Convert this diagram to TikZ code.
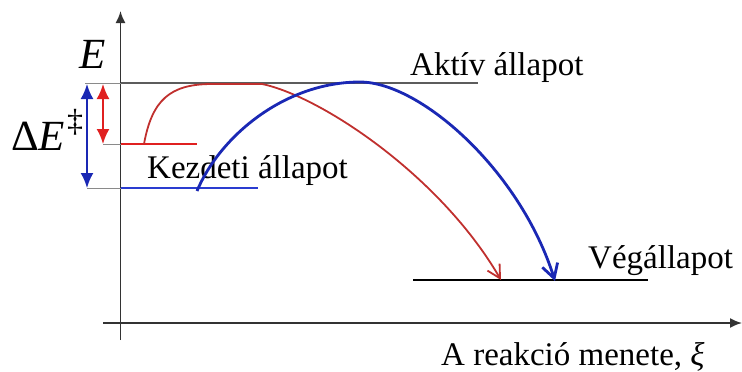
\documentclass[tikz,border=0pt]{standalone}
\usepackage{fontspec}
\setmainfont{Liberation Serif}
\usetikzlibrary{arrows.meta}
\definecolor{axisgray}{HTML}{333333}
\definecolor{thingray}{HTML}{8A8A8A}
\definecolor{curvered}{HTML}{C0302E}
\definecolor{brightred}{HTML}{E02020}
\definecolor{darkblue}{HTML}{1A28B4}
\definecolor{lineblue}{HTML}{2A3CD0}
\tikzset{
  axis/.style={draw=axisgray, line width=1.8pt, -{Latex[length=12pt,width=10pt]}},
  lvl/.style={line width=2.6pt},
  guide/.style={draw=thingray, line width=0.8pt},
  dbl/.style={line width=2pt, {Latex[length=15pt,width=13pt]}-{Latex[length=15pt,width=13pt]}},
  lbl/.style={anchor=base west, inner sep=0pt, font=\fontsize{33}{36}\selectfont},
  big/.style={anchor=base west, inner sep=0pt, font=\fontsize{43}{46}\selectfont},
}
\begin{document}
\begin{tikzpicture}[x=1pt,y=-1pt]
\useasboundingbox (0,0) rectangle (742,372);
% axes
\coordinate (yb) at (120.5,340);
\coordinate (yt) at (120.5,11);
\coordinate (xl) at (103,323);
\coordinate (xr) at (742,323);
\draw[axis] (yb) -- (yt);
\draw[axis] (xl) -- (xr);
% levels
\coordinate (tl0) at (85,83);
\coordinate (tl1) at (120.5,83);
\coordinate (tl2) at (478,83);
\draw[guide] (tl0) -- (tl1);
\draw[draw=axisgray!80, line width=1.8pt] (tl1) -- (tl2);
\coordinate (r0) at (103,144);
\coordinate (r1) at (120.5,144);
\coordinate (r2) at (197,144);
\draw[guide] (r0) -- (r1);
\draw[lvl, brightred] (r1) -- (r2);
\coordinate (b0) at (87,188);
\coordinate (b1) at (120.5,188);
\coordinate (b2) at (258,188);
\draw[guide] (b0) -- (b1);
\draw[lvl, lineblue, line width=2.2pt] (b1) -- (b2);
\coordinate (f1) at (413,280);
\coordinate (f2) at (648,280);
\draw[lvl, black] (f1) -- (f2);
% double arrows
\coordinate (ba) at (87,84);
\coordinate (bb) at (87,188);
\draw[dbl, darkblue] (ba) -- (bb);
\coordinate (ra) at (103,84);
\coordinate (rb) at (103,144);
\draw[dbl, brightred] (ra) -- (rb);
% labels
\node[big] (E) at (79,68) {\textit{E}};
\node[big] (dE) at (11,150) {Δ\textit{E}\hspace{2pt}\raisebox{19pt}{\fontsize{32}{34}\selectfont ‡}};
\node[lbl] (akt) at (410,75) {Aktív állapot};
\node[lbl] (kez) at (147,178) {Kezdeti állapot};
\node[lbl] (veg) at (588,268) {Végállapot};
\node[lbl] (xi) at (441,365) {A reakció menete, \textit{ξ}};
% red curve
\coordinate (rs) at (144,144);
\coordinate (rp1) at (212,84);
\coordinate (rp2) at (262,84);
\coordinate (re) at (501,280);
\draw[curvered, line width=1.8pt, -{Straight Barb[length=13pt,width=14pt]}]
  (rs) .. controls (152,100) and (170,84) .. (rp1) -- (rp2)
  .. controls (320,96) and (440,175) .. (re);
% blue curve
\coordinate (bs) at (197,191);
\coordinate (bp) at (360,82);
\coordinate (be) at (555,281);
\draw[darkblue, line width=2.8pt, -{Straight Barb[length=14pt,width=16pt]}]
  (bs) .. controls (220,136) and (285,82) .. (bp)
  .. controls (420,82) and (520,170) .. (be);
\end{tikzpicture}
\end{document}
